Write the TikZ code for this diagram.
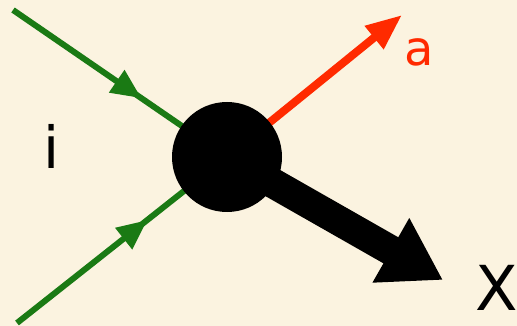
\documentclass[tikz,border=0pt]{standalone}
\usepackage{fontspec}
\setmainfont{DejaVu Sans}
\usetikzlibrary{arrows.meta,decorations.markings}
\definecolor{parch}{RGB}{251,243,224}
\definecolor{fgreen}{RGB}{26,122,20}
\definecolor{fred}{RGB}{255,42,0}
\tikzset{
  gline/.style={draw=fgreen,line width=6pt,
    decoration={markings,mark=at position #1 with {\arrow{Triangle[length=30pt,width=26pt]}}},
    postaction={decorate}},
  rline/.style={draw=fred,line width=8pt,-{Triangle[length=36pt,width=28pt]}},
  bline/.style={draw=black,line width=30pt,-{Triangle[length=60pt,width=70pt]}},
  blob/.style={circle,fill=black,minimum size=110pt,inner sep=0pt},
  lbl/.style={inner sep=0pt}
}
\begin{document}
\begin{tikzpicture}[x=1pt,y=-1pt]
\fill[parch] (0,0) rectangle (517,326);
\useasboundingbox (0,0) rectangle (517,326);
\coordinate (tl) at (13,10);
\coordinate (bl) at (17,323);
\coordinate (ra) at (402,15);
\coordinate (bx) at (443,280);
\coordinate (cc) at (227,157);
\draw[gline=0.6] (tl) -- (cc);
\draw[gline=0.62] (bl) -- (cc);
\draw[rline] (cc) -- (ra);
\draw[bline] (cc) -- (bx);
\node[blob] (c) at (cc) {};
\node[lbl,font=\fontsize{58}{58}\selectfont] (i) at (52,146) {i};
\node[lbl,font=\fontsize{48}{48}\selectfont,text=fred] (a) at (419,52) {a};
\node[lbl,font=\fontsize{62}{62}\selectfont,anchor=west] (x) at (475,288) {X};
\end{tikzpicture}
\end{document}
